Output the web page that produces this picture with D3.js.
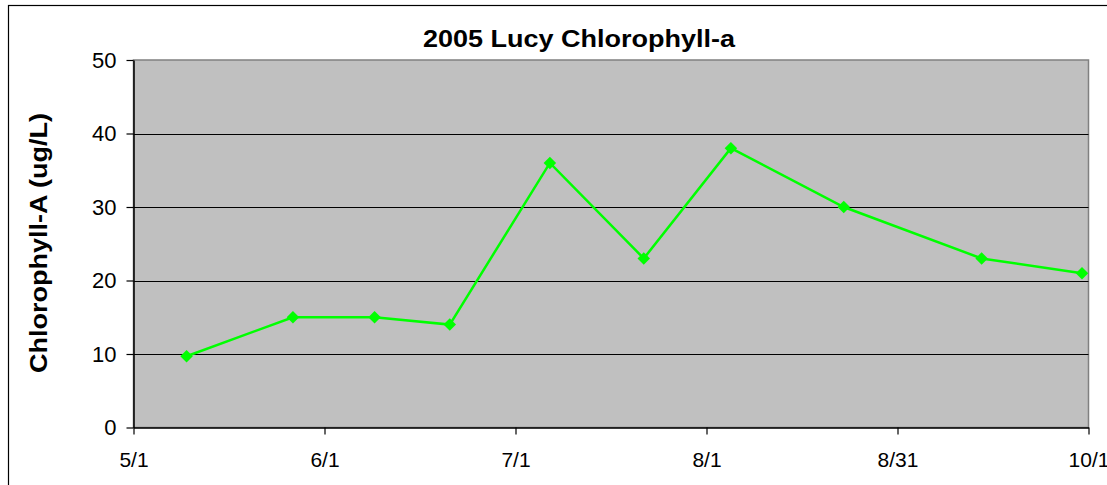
<!DOCTYPE html>
<html>
<head>
<meta charset="utf-8">
<script src="https://cdn.jsdelivr.net/npm/d3@7"></script>
<style>
  body { margin: 0; background: #fff; }
  svg { display: block; font-family: "Liberation Sans", Arial, sans-serif; }
</style>
</head>
<body>
<script>
// sampling dates and chlorophyll-a values (ug/L)
var sampleDates = ["2005-05-09 12:00", "2005-05-26 13:00", "2005-06-08 15:00", "2005-06-20 16:00",
                   "2005-07-06 17:00", "2005-07-21 18:00", "2005-08-04 17:00", "2005-08-22 19:00",
                   "2005-09-13 21:00", "2005-09-29 23:00"];
var chlorophyll = [9.7, 15, 15, 14, 36, 23, 38, 30, 23, 21];
var xDomain = ["2005-05-01 00:00", "2005-10-01 00:00"];
var xTickLabels = ["5/1", "6/1", "7/1", "8/1", "8/31", "10/1"];
var yTicks = [0, 10, 20, 30, 40, 50];

var W = 1107, H = 485;
var plot = {left: 133.5, right: 1088.5, top: 60, bottom: 427.5};

var parse = d3.timeParse("%Y-%m-%d %H:%M");
var data = sampleDates.map(function(d, i) { return {date: parse(d), value: chlorophyll[i]}; });
var t0 = parse(xDomain[0]), t1 = parse(xDomain[1]);

var svg = d3.select("body").append("svg").attr("width", W).attr("height", H);

// outer chart border (runs off the picture on the right and bottom)
svg.append("rect")
    .attr("x", 8.5).attr("y", 5.5)
    .attr("width", 1300).attr("height", 600)
    .attr("fill", "#fff").attr("stroke", "#000").attr("stroke-width", 1.2);

var x = d3.scaleTime().domain([t0, t1]).range([plot.left, plot.right]);
var y = d3.scaleLinear().domain([0, 50]).range([plot.bottom, plot.top]);

// plot area
svg.append("rect")
    .attr("x", plot.left).attr("y", plot.top)
    .attr("width", plot.right - plot.left).attr("height", plot.bottom - plot.top)
    .attr("fill", "#c0c0c0").attr("stroke", "#808080").attr("stroke-width", 1.5);

// gridlines
svg.append("g").selectAll("line")
    .data(yTicks.filter(function(v) { return v > 0 && v < 50; }))
    .join("line")
    .attr("x1", plot.left).attr("x2", plot.right)
    .attr("y1", function(d) { return Math.round(y(d)) + 0.5; })
    .attr("y2", function(d) { return Math.round(y(d)) + 0.5; })
    .attr("stroke", "#000").attr("stroke-width", 1);

// x ticks are evenly spaced across the date range
var xTickVals = d3.range(xTickLabels.length).map(function(i) {
    return new Date(+t0 + i * (t1 - t0) / (xTickLabels.length - 1));
});

var xAxis = d3.axisBottom(x)
    .tickValues(xTickVals)
    .tickFormat(function(d, i) { return xTickLabels[i]; })
    .tickSizeInner(7).tickSizeOuter(0).tickPadding(18);

var gx = svg.append("g")
    .attr("transform", "translate(0," + plot.bottom + ")")
    .call(xAxis);
gx.select(".domain").attr("stroke", "#000").attr("stroke-width", 1.5);
gx.selectAll(".tick line").attr("stroke", "#000").attr("stroke-width", 1.2);
gx.selectAll(".tick text")
    .attr("fill", "#000").attr("font-size", 21)
    .attr("font-family", "Liberation Sans, Arial, sans-serif");

var yAxis = d3.axisLeft(y)
    .tickValues(yTicks)
    .tickSizeInner(7).tickSizeOuter(0).tickPadding(10);

var gy = svg.append("g")
    .attr("transform", "translate(" + plot.left + ",0)")
    .call(yAxis);
gy.select(".domain").attr("stroke", "#000").attr("stroke-width", 1.5);
gy.selectAll(".tick line").attr("stroke", "#000").attr("stroke-width", 1.2);
gy.selectAll(".tick text")
    .attr("fill", "#000").attr("font-size", 22)
    .attr("font-family", "Liberation Sans, Arial, sans-serif");

// series line
var line = d3.line()
    .x(function(d) { return x(d.date); })
    .y(function(d) { return y(d.value); });

svg.append("path")
    .datum(data)
    .attr("d", line)
    .attr("fill", "none")
    .attr("stroke", "#00ff00")
    .attr("stroke-width", 2.5);

// diamond markers
var diamond = d3.symbol().type(d3.symbolSquare).size(78);
svg.append("g").selectAll("path")
    .data(data)
    .join("path")
    .attr("d", diamond)
    .attr("transform", function(d) {
        return "translate(" + x(d.date) + "," + y(d.value) + ") rotate(45)";
    })
    .attr("fill", "#00ff00");

// title
svg.append("text")
    .attr("x", 579).attr("y", 47)
    .attr("text-anchor", "middle")
    .attr("font-size", 23).attr("font-weight", "bold")
    .attr("textLength", 312).attr("lengthAdjust", "spacingAndGlyphs")
    .text("2005 Lucy Chlorophyll-a");

// y axis title
svg.append("text")
    .attr("transform", "translate(47,243) rotate(-90)")
    .attr("text-anchor", "middle")
    .attr("font-size", 23).attr("font-weight", "bold")
    .attr("textLength", 260).attr("lengthAdjust", "spacingAndGlyphs")
    .text("Chlorophyll-A (ug/L)");
</script>
</body>
</html>
